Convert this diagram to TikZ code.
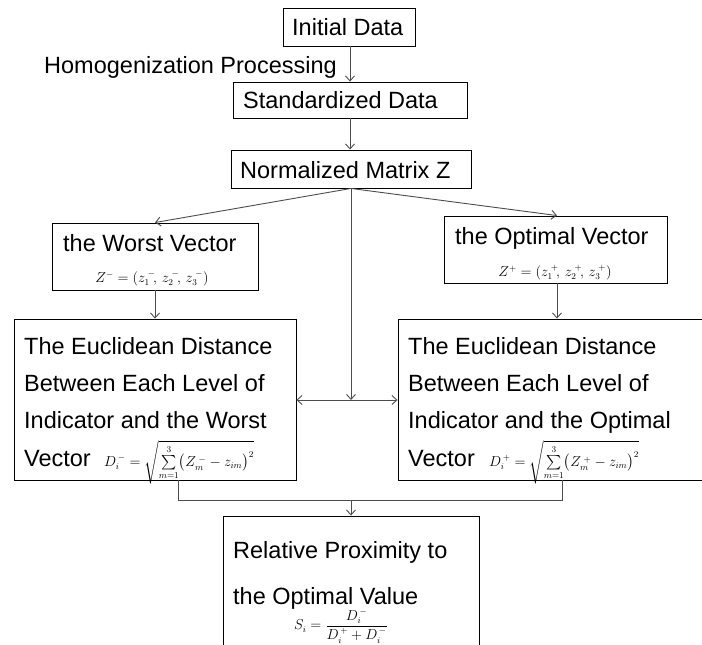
\documentclass[tikz,border=0pt]{standalone}
\usepackage{amsmath}
\usepackage{fontspec}
\setmainfont{Liberation Sans}
\usetikzlibrary{arrows.meta}
\begin{document}
\begin{tikzpicture}[x=1pt,y=-1pt,
  box/.style={draw=black,line width=0.9pt,inner sep=0pt},
  lbl/.style={anchor=base west,inner sep=0pt,font=\fontsize{23.5}{28}\selectfont},
  eq/.style={inner sep=0pt,font=\fontsize{13.5}{15}\selectfont},
  link/.style={draw=black!70,line width=0.9pt},
  conn/.style={link,-{Straight Barb[length=5pt,width=9pt]}}]
\useasboundingbox (0,0) rectangle (702,645);
\clip (0,0) rectangle (702,645);

% boxes
\node[box,minimum width=132pt,minimum height=38pt] (init) at (349,27) {};
\node[box,minimum width=234pt,minimum height=36pt] (std) at (350,100) {};
\node[box,minimum width=240pt,minimum height=38pt] (norm) at (351,169) {};
\node[box,minimum width=206pt,minimum height=67pt] (worst) at (155,256.5) {};
\node[box,minimum width=223pt,minimum height=67pt] (opt) at (555.5,249.5) {};
\node[box,minimum width=282pt,minimum height=161pt] (ewor) at (155,399.5) {};
\node[box,minimum width=312pt,minimum height=161pt] (eopt) at (554,399.5) {};
\node[box,minimum width=256pt,minimum height=160pt] (rel) at (351,596) {};

% texts
\node[lbl] (tinit) at (292,35.5) {Initial Data};
\node[lbl,anchor=base east] (thom) at (337,73) {Homogenization Processing};
\node[lbl] (tstd) at (243,108.5) {Standardized Data};
\node[lbl] (tnorm) at (240,178) {Normalized Matrix Z};
\node[lbl] (tworst) at (63,251) {the Worst Vector};
\node[eq] (fworst) at (152,279) {$Z^{-}=(z_1^{\;-}\!,\,z_2^{\;-}\!,\,z_3^{\;-})$};
\node[lbl] (topt) at (455,244.5) {the Optimal Vector};
\node[eq] (fopt) at (555,273) {$Z^{+}=(z_1^{\;+}\!,\,z_2^{\;+}\!,\,z_3^{\;+})$};

\node[lbl] (ew1) at (24,354.5) {The Euclidean Distance};
\node[lbl] (ew2) at (24,391.5) {Between Each Level of};
\node[lbl] (ew3) at (24,428.5) {Indicator and the Worst};
\node[lbl] (ew4) at (24,466.5) {Vector};
\node[eq,anchor=base west] (few) at (104,466.5) {$D_i^{\,-}=\sqrt{\sum\limits_{m=1}^{3}\bigl(Z_m^{\;-}-z_{im}\bigr)^2}$};

\node[lbl] (eo1) at (408,354.5) {The Euclidean Distance};
\node[lbl] (eo2) at (408,391.5) {Between Each Level of};
\node[lbl] (eo3) at (408,428.5) {Indicator and the Optimal};
\node[lbl] (eo4) at (408,466.5) {Vector};
\node[eq,anchor=base west] (feo) at (489,466.5) {$D_i^{\,+}=\sqrt{\sum\limits_{m=1}^{3}\bigl(Z_m^{\;+}-z_{im}\bigr)^2}$};

\node[lbl] (r1) at (233,558.5) {Relative Proximity to};
\node[lbl] (r2) at (233,604.5) {the Optimal Value};
\node[eq] (fr) at (341,626) {$S_i=\dfrac{D_i^{\,-}}{D_i^{\,+}+D_i^{\,-}}$};

% connectors
\draw[conn] (init.south -| 350,0) -- (std.north -| 350,0);
\draw[conn] (std.south -| 350,0) -- (norm.north -| 350,0);
\coordinate (split) at (351,400);
\draw[conn] (norm.south) -- (worst.north);
\draw[conn] (norm.south) -- (opt.north -| 557,0);
\draw[conn] (norm.south) -- (split);
\draw[conn] (split) -- (ewor.east |- split);
\draw[conn] (split) -- (eopt.west |- split);
\draw[conn] (worst.south) -- (ewor.north);
\draw[conn] (opt.south -| 557,0) -- (eopt.north -| 557,0);
\coordinate (joinL) at (178,500);
\coordinate (joinR) at (562,500);
\coordinate (joinM) at (351,500);
\draw[link] (ewor.south -| joinL) -- (joinL) -- (joinR) -- (eopt.south -| joinR);
\draw[conn] (joinM) -- (rel.north);
\end{tikzpicture}
\end{document}
